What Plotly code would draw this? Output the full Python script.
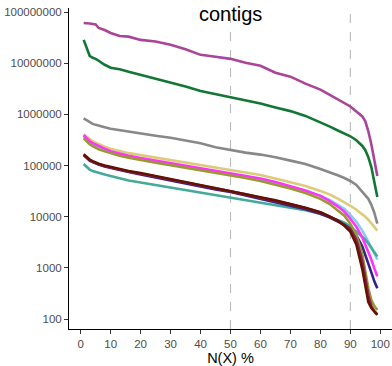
import plotly.graph_objects as go

nx = [1, 2, 3, 4, 5, 6, 8, 10, 13, 16, 20, 25, 30, 35, 40, 45, 50, 55, 60, 65,
      70, 75, 80, 83, 86, 88, 90, 92, 94, 95, 96, 97, 98, 99]

purple = [6.11e7, 6.11e7, 5.98e7, 5.85e7, 5.72e7, 4.89e7, 4.47e7, 3.91e7, 3.42e7, 3.31e7,
          2.86e7, 2.67e7, 2.29e7, 1.87e7, 1.46e7, 1.34e7, 1.22e7, 1.02e7, 8.94e6, 6.54e6,
          5.47e6, 4.00e6, 3.06e6, 2.44e6, 1.95e6, 1.71e6, 1.43e6, 1.14e6, 9.14e5, 7.31e5,
          4.68e5, 2.61e5, 1.34e5, 6.25e4]
green = [2.86e7, 2.00e7, 1.40e7, 1.28e7, 1.22e7, 1.12e7, 9.35e6, 8.18e6, 7.65e6, 6.84e6,
         5.98e6, 5.00e6, 4.18e6, 3.50e6, 2.86e6, 2.50e6, 2.21e6, 1.91e6, 1.64e6, 1.37e6,
         1.16e6, 9.36e5, 7.08e5, 5.85e5, 4.79e5, 4.28e5, 3.74e5, 3.13e5, 2.42e5, 2.00e5,
         1.46e5, 9.35e4, 4.79e4, 2.44e4]
gray = [8.36e5, 7.64e5, 6.99e5, 6.54e5, 6.25e5, 5.98e5, 5.60e5, 5.23e5, 4.89e5, 4.57e5,
        4.28e5, 3.83e5, 3.50e5, 3.13e5, 2.74e5, 2.29e5, 2.00e5, 1.79e5, 1.64e5, 1.46e5,
        1.25e5, 1.07e5, 8.55e4, 7.48e4, 6.40e4, 5.72e4, 5.00e4, 4.18e4, 3.06e4, 2.67e4,
        2.24e4, 1.71e4, 1.20e4, 7.31e3]
sand = [4.09e5, 3.66e5, 3.27e5, 2.99e5, 2.80e5, 2.61e5, 2.34e5, 2.14e5, 1.91e5, 1.75e5,
        1.60e5, 1.43e5, 1.28e5, 1.14e5, 1.02e5, 9.35e4, 8.36e4, 7.48e4, 6.54e4, 5.60e4,
        4.79e4, 4.00e4, 3.20e4, 2.74e4, 2.24e4, 1.95e4, 1.64e4, 1.37e4, 1.14e4, 1.00e4,
        8.75e3, 7.48e3, 6.40e3, 5.35e3]
magenta = [3.91e5, 3.34e5, 2.99e5, 2.74e5, 2.56e5, 2.39e5, 2.14e5, 1.91e5, 1.71e5, 1.56e5,
           1.40e5, 1.25e5, 1.12e5, 1.00e5, 8.94e4, 8.00e4, 7.14e4, 6.40e4, 5.60e4, 4.79e4,
           4.00e4, 3.27e4, 2.56e4, 2.05e4, 1.56e4, 1.25e4, 9.14e3, 6.40e3, 3.91e3, 2.86e3,
           2.09e3, 1.46e3, 977, 684]
cyan = [3.74e5, 3.20e5, 2.86e5, 2.61e5, 2.44e5, 2.29e5, 2.05e5, 1.83e5, 1.64e5, 1.50e5,
        1.34e5, 1.20e5, 1.07e5, 9.57e4, 8.55e4, 7.65e4, 6.84e4, 6.11e4, 5.35e4, 4.57e4,
        3.83e4, 3.20e4, 2.56e4, 2.14e4, 1.71e4, 1.43e4, 1.09e4, 8.00e3, 5.35e3, 4.28e3,
        3.27e3, 2.50e3, 1.91e3, 1.46e3]
olive = [3.42e5, 2.92e5, 2.61e5, 2.39e5, 2.24e5, 2.09e5, 1.91e5, 1.75e5, 1.56e5, 1.43e5,
         1.28e5, 1.14e5, 1.02e5, 9.14e4, 8.18e4, 7.31e4, 6.54e4, 5.72e4, 5.00e4, 4.28e4,
         3.57e4, 2.92e4, 2.24e4, 1.79e4, 1.31e4, 1.05e4, 7.31e3, 4.47e3, 1.83e3, 894,
         400, 234, 179, 150]
teal = [1.07e5, 9.35e4, 8.36e4, 7.82e4, 7.48e4, 7.14e4, 6.68e4, 6.25e4, 5.60e4, 5.12e4,
        4.68e4, 4.18e4, 3.74e4, 3.34e4, 2.99e4, 2.67e4, 2.44e4, 2.14e4, 1.91e4, 1.71e4,
        1.53e4, 1.34e4, 1.14e4, 1.00e4, 8.55e3, 7.65e3, 6.40e3, 5.12e3, 4.09e3, 3.57e3,
        2.99e3, 2.50e3, 2.00e3, 1.67e3]
indigo = [1.60e5, 1.40e5, 1.25e5, 1.17e5, 1.09e5, 1.05e5, 9.57e4, 8.94e4, 8.18e4, 7.48e4,
          6.68e4, 5.85e4, 5.12e4, 4.47e4, 3.83e4, 3.42e4, 3.06e4, 2.61e4, 2.29e4, 1.95e4,
          1.67e4, 1.40e4, 1.14e4, 9.77e3, 8.00e3, 7.00e3, 5.85e3, 4.28e3, 2.61e3, 1.83e3,
          1.22e3, 818, 547, 400]
wine = [1.62e5, 1.42e5, 1.28e5, 1.19e5, 1.11e5, 1.06e5, 9.8e4, 9.1e4, 8.35e4, 7.65e4,
        7.0e4, 6.1e4, 5.35e4, 4.7e4, 4.0e4, 3.58e4, 3.17e4, 2.74e4, 2.36e4, 2.05e4,
        1.76e4, 1.48e4, 1.21e4, 1.02e4, 8.3e3, 6.9e3, 5.6e3, 3.57e3, 1.34e3, 625,
        292, 179, 143, 125]
brown = [1.67e5, 1.46e5, 1.31e5, 1.22e5, 1.14e5, 1.09e5, 1.00e5, 9.35e4, 8.55e4, 7.82e4,
         7.14e4, 6.25e4, 5.47e4, 4.79e4, 4.09e4, 3.66e4, 3.24e4, 2.80e4, 2.41e4, 2.09e4,
         1.79e4, 1.50e4, 1.22e4, 1.02e4, 8.18e3, 6.68e3, 5.12e3, 2.86e3, 936, 418,
         214, 164, 137, 120]

series = [
    ("purple", purple, "#AA4499"),
    ("green", green, "#117733"),
    ("gray", gray, "#888888"),
    ("sand", sand, "#DDCC77"),
    ("cyan", cyan, "#88CCEE"),
    ("teal", teal, "#44AA99"),
    ("magenta", magenta, "#FF33FF"),
    ("indigo", indigo, "#332288"),
    ("olive", olive, "#999933"),
    ("wine", wine, "#882255"),
    ("brown", brown, "#661100"),
]

xticks = [0, 10, 20, 30, 40, 50, 60, 70, 80, 90, 100]
yticks = [100, 1000, 10000, 100000, 1000000, 10000000, 100000000]
ytext = ["100", "1000", "10000", "100000", "1000000", "10000000", "100000000"]
vlines = [50, 90]

fig = go.Figure()
for name, vals, col in series:
    fig.add_trace(go.Scatter(x=nx, y=vals, mode="lines", name=name,
                             line=dict(color=col, width=2.6), showlegend=False))

for v in vlines:
    fig.add_shape(type="line", x0=v, x1=v, y0=0, y1=1, xref="x", yref="paper",
                  line=dict(color="#BBBBBB", width=1.1, dash="dash"), layer="below")

fig.update_layout(
    width=392, height=366,
    margin=dict(l=69, r=0, t=8, b=35),
    plot_bgcolor="white", paper_bgcolor="white",
    font=dict(family="Liberation Sans, Arial, sans-serif", color="#4D4D4D"),
    showlegend=False,
)
fig.update_xaxes(range=[-3.9, 103.9], tickvals=xticks, ticks="outside", ticklen=4,
                 tickcolor="#333333", showline=True, linecolor="black", linewidth=1,
                 showgrid=False, zeroline=False, tickfont=dict(size=11.5, color="#4D4D4D"),
                 title=dict(text="N(X) %", font=dict(size=14.5, color="black"), standoff=6))
fig.update_yaxes(type="log", range=[1.806, 8.08], tickvals=yticks, ticktext=ytext,
                 ticks="outside", ticklen=4, tickcolor="#333333", showline=True,
                 linecolor="black", linewidth=1, showgrid=False, zeroline=False,
                 tickfont=dict(size=11.5, color="#4D4D4D"))

fig.add_annotation(text="contigs", x=0.5, y=0.98, xref="paper", yref="paper",
                   xanchor="center", yanchor="middle", showarrow=False,
                   font=dict(size=20, color="black", family="Liberation Sans, Arial, sans-serif"))

fig.write_html("out.html")
